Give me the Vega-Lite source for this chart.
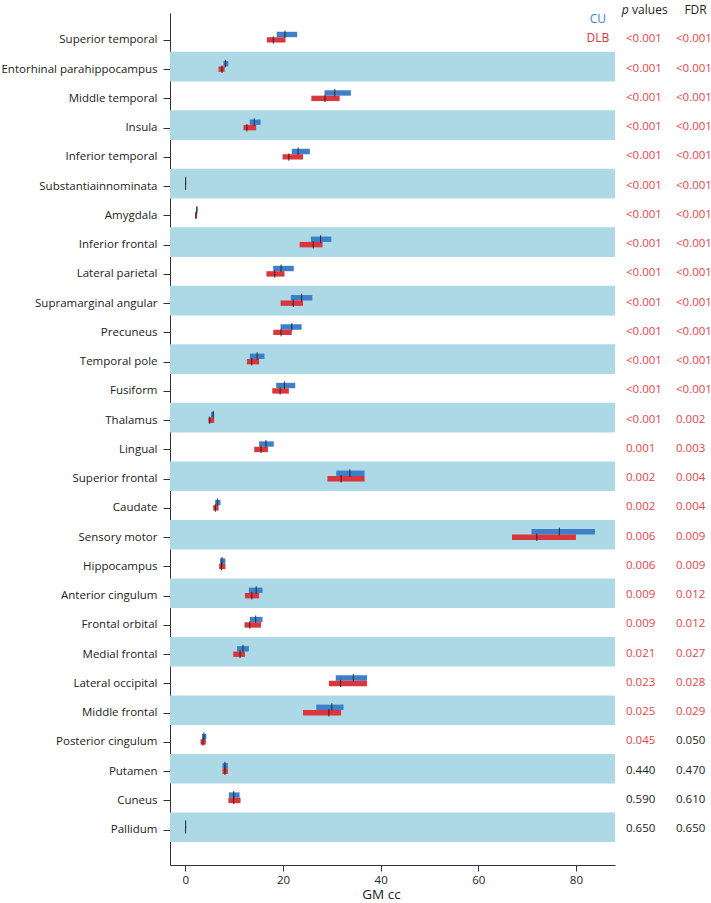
{
  "$schema": "https://vega.github.io/schema/vega-lite/v6.json",
  "width": 445,
  "height": 852,
  "autosize": {"type": "none"},
  "padding": {"left": 170, "top": 13, "right": 96, "bottom": 38},
  "background": "white",
  "config": {
    "font": "Open Sans",
    "view": {"stroke": null},
    "axis": {"grid": false, "domainColor": "#333333", "tickColor": "#333333", "labelColor": "#222222", "titleColor": "#222222"},
    "axisY": {"labelOverlap": false, "labelBound": false}
  },
  "datasets": {
    "regions": [
      {"idx": 0, "region": "Superior temporal", "p": "<0.001", "fdr": "<0.001", "p_sig": true, "fdr_sig": true},
      {"idx": 1, "region": "Entorhinal parahippocampus", "p": "<0.001", "fdr": "<0.001", "p_sig": true, "fdr_sig": true},
      {"idx": 2, "region": "Middle temporal", "p": "<0.001", "fdr": "<0.001", "p_sig": true, "fdr_sig": true},
      {"idx": 3, "region": "Insula", "p": "<0.001", "fdr": "<0.001", "p_sig": true, "fdr_sig": true},
      {"idx": 4, "region": "Inferior temporal", "p": "<0.001", "fdr": "<0.001", "p_sig": true, "fdr_sig": true},
      {"idx": 5, "region": "Substantiainnominata", "p": "<0.001", "fdr": "<0.001", "p_sig": true, "fdr_sig": true},
      {"idx": 6, "region": "Amygdala", "p": "<0.001", "fdr": "<0.001", "p_sig": true, "fdr_sig": true},
      {"idx": 7, "region": "Inferior frontal", "p": "<0.001", "fdr": "<0.001", "p_sig": true, "fdr_sig": true},
      {"idx": 8, "region": "Lateral parietal", "p": "<0.001", "fdr": "<0.001", "p_sig": true, "fdr_sig": true},
      {"idx": 9, "region": "Supramarginal angular", "p": "<0.001", "fdr": "<0.001", "p_sig": true, "fdr_sig": true},
      {"idx": 10, "region": "Precuneus", "p": "<0.001", "fdr": "<0.001", "p_sig": true, "fdr_sig": true},
      {"idx": 11, "region": "Temporal pole", "p": "<0.001", "fdr": "<0.001", "p_sig": true, "fdr_sig": true},
      {"idx": 12, "region": "Fusiform", "p": "<0.001", "fdr": "<0.001", "p_sig": true, "fdr_sig": true},
      {"idx": 13, "region": "Thalamus", "p": "<0.001", "fdr": "0.002", "p_sig": true, "fdr_sig": true},
      {"idx": 14, "region": "Lingual", "p": "0.001", "fdr": "0.003", "p_sig": true, "fdr_sig": true},
      {"idx": 15, "region": "Superior frontal", "p": "0.002", "fdr": "0.004", "p_sig": true, "fdr_sig": true},
      {"idx": 16, "region": "Caudate", "p": "0.002", "fdr": "0.004", "p_sig": true, "fdr_sig": true},
      {"idx": 17, "region": "Sensory motor", "p": "0.006", "fdr": "0.009", "p_sig": true, "fdr_sig": true},
      {"idx": 18, "region": "Hippocampus", "p": "0.006", "fdr": "0.009", "p_sig": true, "fdr_sig": true},
      {"idx": 19, "region": "Anterior cingulum", "p": "0.009", "fdr": "0.012", "p_sig": true, "fdr_sig": true},
      {"idx": 20, "region": "Frontal orbital", "p": "0.009", "fdr": "0.012", "p_sig": true, "fdr_sig": true},
      {"idx": 21, "region": "Medial frontal", "p": "0.021", "fdr": "0.027", "p_sig": true, "fdr_sig": true},
      {"idx": 22, "region": "Lateral occipital", "p": "0.023", "fdr": "0.028", "p_sig": true, "fdr_sig": true},
      {"idx": 23, "region": "Middle frontal", "p": "0.025", "fdr": "0.029", "p_sig": true, "fdr_sig": true},
      {"idx": 24, "region": "Posterior cingulum", "p": "0.045", "fdr": "0.050", "p_sig": true, "fdr_sig": false},
      {"idx": 25, "region": "Putamen", "p": "0.440", "fdr": "0.470", "p_sig": false, "fdr_sig": false},
      {"idx": 26, "region": "Cuneus", "p": "0.590", "fdr": "0.610", "p_sig": false, "fdr_sig": false},
      {"idx": 27, "region": "Pallidum", "p": "0.650", "fdr": "0.650", "p_sig": false, "fdr_sig": false}
    ],
    "stats": [
      {"region": "Superior temporal", "group": "CU", "q1": 18.7, "median": 20.4, "q3": 22.9},
      {"region": "Superior temporal", "group": "DLB", "q1": 16.7, "median": 18.0, "q3": 20.5},
      {"region": "Entorhinal parahippocampus", "group": "CU", "q1": 7.8, "median": 8.2, "q3": 8.8},
      {"region": "Entorhinal parahippocampus", "group": "DLB", "q1": 6.8, "median": 7.5, "q3": 8.05},
      {"region": "Middle temporal", "group": "CU", "q1": 28.5, "median": 30.6, "q3": 33.9},
      {"region": "Middle temporal", "group": "DLB", "q1": 25.8, "median": 28.6, "q3": 31.6},
      {"region": "Insula", "group": "CU", "q1": 13.2, "median": 14.1, "q3": 15.4},
      {"region": "Insula", "group": "DLB", "q1": 11.9, "median": 12.6, "q3": 14.5},
      {"region": "Inferior temporal", "group": "CU", "q1": 21.8, "median": 23.1, "q3": 25.5},
      {"region": "Inferior temporal", "group": "DLB", "q1": 19.9, "median": 21.2, "q3": 24.1},
      {"region": "Substantiainnominata", "group": "CU", "q1": 0.0, "median": 0.06, "q3": 0.12},
      {"region": "Substantiainnominata", "group": "DLB", "q1": 0.0, "median": 0.05, "q3": 0.1},
      {"region": "Amygdala", "group": "CU", "q1": 2.2, "median": 2.35, "q3": 2.5},
      {"region": "Amygdala", "group": "DLB", "q1": 2.0, "median": 2.15, "q3": 2.4},
      {"region": "Inferior frontal", "group": "CU", "q1": 25.7, "median": 27.7, "q3": 29.9},
      {"region": "Inferior frontal", "group": "DLB", "q1": 23.4, "median": 26.2, "q3": 28.1},
      {"region": "Lateral parietal", "group": "CU", "q1": 18.0, "median": 19.6, "q3": 22.2},
      {"region": "Lateral parietal", "group": "DLB", "q1": 16.6, "median": 18.3, "q3": 20.3},
      {"region": "Supramarginal angular", "group": "CU", "q1": 21.6, "median": 23.8, "q3": 26.0},
      {"region": "Supramarginal angular", "group": "DLB", "q1": 19.5, "median": 22.1, "q3": 24.1},
      {"region": "Precuneus", "group": "CU", "q1": 19.5, "median": 21.8, "q3": 23.8},
      {"region": "Precuneus", "group": "DLB", "q1": 18.0, "median": 19.6, "q3": 21.8},
      {"region": "Temporal pole", "group": "CU", "q1": 13.2, "median": 14.7, "q3": 16.2},
      {"region": "Temporal pole", "group": "DLB", "q1": 12.6, "median": 13.6, "q3": 15.1},
      {"region": "Fusiform", "group": "CU", "q1": 18.6, "median": 20.3, "q3": 22.5},
      {"region": "Fusiform", "group": "DLB", "q1": 17.8, "median": 19.4, "q3": 21.2},
      {"region": "Thalamus", "group": "CU", "q1": 5.25, "median": 5.7, "q3": 5.9},
      {"region": "Thalamus", "group": "DLB", "q1": 4.7, "median": 5.0, "q3": 5.9},
      {"region": "Lingual", "group": "CU", "q1": 15.1, "median": 16.5, "q3": 18.1},
      {"region": "Lingual", "group": "DLB", "q1": 14.1, "median": 15.5, "q3": 16.9},
      {"region": "Superior frontal", "group": "CU", "q1": 30.9, "median": 33.7, "q3": 36.7},
      {"region": "Superior frontal", "group": "DLB", "q1": 29.1, "median": 31.9, "q3": 36.7},
      {"region": "Caudate", "group": "CU", "q1": 6.1, "median": 6.55, "q3": 7.2},
      {"region": "Caudate", "group": "DLB", "q1": 5.7, "median": 6.15, "q3": 6.8},
      {"region": "Sensory motor", "group": "CU", "q1": 70.9, "median": 76.6, "q3": 83.9},
      {"region": "Sensory motor", "group": "DLB", "q1": 66.9, "median": 72.0, "q3": 80.0},
      {"region": "Hippocampus", "group": "CU", "q1": 7.1, "median": 7.5, "q3": 8.2},
      {"region": "Hippocampus", "group": "DLB", "q1": 6.9, "median": 7.4, "q3": 8.2},
      {"region": "Anterior cingulum", "group": "CU", "q1": 13.0, "median": 14.5, "q3": 15.8},
      {"region": "Anterior cingulum", "group": "DLB", "q1": 12.2, "median": 13.6, "q3": 15.1},
      {"region": "Frontal orbital", "group": "CU", "q1": 13.2, "median": 14.4, "q3": 15.8},
      {"region": "Frontal orbital", "group": "DLB", "q1": 12.1, "median": 13.2, "q3": 15.5},
      {"region": "Medial frontal", "group": "CU", "q1": 10.6, "median": 11.8, "q3": 13.0},
      {"region": "Medial frontal", "group": "DLB", "q1": 9.8, "median": 11.2, "q3": 12.2},
      {"region": "Lateral occipital", "group": "CU", "q1": 30.8, "median": 34.4, "q3": 37.2},
      {"region": "Lateral occipital", "group": "DLB", "q1": 29.4, "median": 31.8, "q3": 37.2},
      {"region": "Middle frontal", "group": "CU", "q1": 26.8, "median": 30.0, "q3": 32.4},
      {"region": "Middle frontal", "group": "DLB", "q1": 24.1, "median": 29.4, "q3": 31.9},
      {"region": "Posterior cingulum", "group": "CU", "q1": 3.4, "median": 3.8, "q3": 4.3},
      {"region": "Posterior cingulum", "group": "DLB", "q1": 3.1, "median": 3.6, "q3": 4.2},
      {"region": "Putamen", "group": "CU", "q1": 7.6, "median": 8.1, "q3": 8.7},
      {"region": "Putamen", "group": "DLB", "q1": 7.6, "median": 8.1, "q3": 8.7},
      {"region": "Cuneus", "group": "CU", "q1": 8.9, "median": 9.9, "q3": 11.1},
      {"region": "Cuneus", "group": "DLB", "q1": 8.8, "median": 9.9, "q3": 11.3},
      {"region": "Pallidum", "group": "CU", "q1": 0.0, "median": 0.06, "q3": 0.12},
      {"region": "Pallidum", "group": "DLB", "q1": 0.0, "median": 0.05, "q3": 0.1}
    ],
    "legend": [{"group": "CU"}, {"group": "DLB"}],
    "headers": [{"part": "p", "text": "p"}, {"part": "values", "text": "values"}, {"part": "FDR", "text": "FDR"}]
  },
  "encoding": {
    "y": {
      "type": "quantitative",
      "scale": {"domain": [-0.662, 28.12], "reverse": true, "nice": false, "zero": false},
      "axis": {
        "values": [0,1,2,3,4,5,6,7,8,9,10,11,12,13,14,15,16,17,18,19,20,21,22,23,24,25,26,27],
        "labelExpr": "['Superior temporal','Entorhinal parahippocampus','Middle temporal','Insula','Inferior temporal','Substantiainnominata','Amygdala','Inferior frontal','Lateral parietal','Supramarginal angular','Precuneus','Temporal pole','Fusiform','Thalamus','Lingual','Superior frontal','Caudate','Sensory motor','Hippocampus','Anterior cingulum','Frontal orbital','Medial frontal','Lateral occipital','Middle frontal','Posterior cingulum','Putamen','Cuneus','Pallidum'][datum.value]",
        "title": null, "labelFontSize": 11.5, "tickSize": 7, "labelPadding": 6, "tickOffset": 2.5, "labelBound": false, "labelOverlap": false
      }
    },
    "x": {
      "type": "quantitative",
      "scale": {"domain": [-3.15, 88], "nice": false, "zero": false},
      "axis": {
        "values": [0, 20, 40, 60, 80], "title": "GM cc", "titleFontSize": 13.5, "titleFontWeight": "normal",
        "labelFontSize": 11.5, "tickSize": 6, "labelPadding": 3, "titleX": 211, "titlePadding": 2
      }
    }
  },
  "layer": [
    {
      "data": {"name": "regions"},
      "transform": [{"filter": "datum.idx % 2 == 1"}],
      "mark": {"type": "bar", "height": 29.6, "color": "#add8e6"},
      "encoding": {
        "y": {"field": "idx", "type": "quantitative"},
        "x": {"datum": -3.15, "type": "quantitative"},
        "x2": {"datum": 88}
      }
    },
    {
      "data": {"name": "stats"},
      "transform": [
        {"lookup": "region", "from": {"data": {"name": "regions"}, "key": "region", "fields": ["idx"]}},
        {"filter": "datum.group == 'CU'"}
      ],
      "mark": {"type": "bar", "height": 5.4, "yOffset": -2.9, "color": "#3d80c8"},
      "encoding": {
        "y": {"field": "idx", "type": "quantitative"},
        "x": {"field": "q1", "type": "quantitative"},
        "x2": {"field": "q3"}
      }
    },
    {
      "data": {"name": "stats"},
      "transform": [
        {"lookup": "region", "from": {"data": {"name": "regions"}, "key": "region", "fields": ["idx"]}},
        {"filter": "datum.group == 'DLB'"}
      ],
      "mark": {"type": "bar", "height": 5.4, "yOffset": 2.5, "color": "#d9363e"},
      "encoding": {
        "y": {"field": "idx", "type": "quantitative"},
        "x": {"field": "q1", "type": "quantitative"},
        "x2": {"field": "q3"}
      }
    },
    {
      "data": {"name": "stats"},
      "transform": [
        {"lookup": "region", "from": {"data": {"name": "regions"}, "key": "region", "fields": ["idx"]}},
        {"filter": "datum.group == 'CU'"}
      ],
      "mark": {"type": "tick", "orient": "vertical", "size": 7.5, "thickness": 1, "yOffset": -3.2, "color": "#1a1a1a", "opacity": 0.85},
      "encoding": {
        "y": {"field": "idx", "type": "quantitative"},
        "x": {"field": "median", "type": "quantitative"}
      }
    },
    {
      "data": {"name": "stats"},
      "transform": [
        {"lookup": "region", "from": {"data": {"name": "regions"}, "key": "region", "fields": ["idx"]}},
        {"filter": "datum.group == 'DLB'"}
      ],
      "mark": {"type": "tick", "orient": "vertical", "size": 7.5, "thickness": 1, "yOffset": 2.6, "color": "#1a1a1a", "opacity": 0.85},
      "encoding": {
        "y": {"field": "idx", "type": "quantitative"},
        "x": {"field": "median", "type": "quantitative"}
      }
    },
    {
      "data": {"name": "regions"},
      "mark": {"type": "text", "align": "left", "baseline": "middle", "fontSize": 11.5, "dy": 2},
      "encoding": {
        "y": {"field": "idx", "type": "quantitative"},
        "x": {"datum": 90.25, "type": "quantitative"},
        "text": {"field": "p"},
        "color": {"condition": {"test": "datum.p_sig", "value": "#e2454b"}, "value": "#222222"}
      }
    },
    {
      "data": {"name": "regions"},
      "mark": {"type": "text", "align": "left", "baseline": "middle", "fontSize": 11.5, "dy": 2},
      "encoding": {
        "y": {"field": "idx", "type": "quantitative"},
        "x": {"datum": 100.5, "type": "quantitative"},
        "text": {"field": "fdr"},
        "color": {"condition": {"test": "datum.fdr_sig", "value": "#e2454b"}, "value": "#222222"}
      }
    },
    {
      "data": {"name": "headers"},
      "transform": [{"filter": "datum.part == 'p'"}],
      "mark": {"type": "text", "align": "left", "baseline": "middle", "fontSize": 12, "fontStyle": "italic", "color": "#222222"},
      "encoding": {
        "y": {"datum": -0.94, "type": "quantitative"},
        "x": {"datum": 89.4, "type": "quantitative"},
        "text": {"field": "text"}
      }
    },
    {
      "data": {"name": "headers"},
      "transform": [{"filter": "datum.part == 'values'"}],
      "mark": {"type": "text", "align": "left", "baseline": "middle", "fontSize": 12, "color": "#222222"},
      "encoding": {
        "y": {"datum": -0.94, "type": "quantitative"},
        "x": {"datum": 91.5, "type": "quantitative"},
        "text": {"field": "text"}
      }
    },
    {
      "data": {"name": "headers"},
      "transform": [{"filter": "datum.part == 'FDR'"}],
      "mark": {"type": "text", "align": "center", "baseline": "middle", "fontSize": 12, "color": "#222222"},
      "encoding": {
        "y": {"datum": -0.94, "type": "quantitative"},
        "x": {"datum": 104.5, "type": "quantitative"},
        "text": {"field": "text"}
      }
    },
    {
      "data": {"name": "legend"},
      "transform": [{"filter": "datum.group == 'CU'"}],
      "mark": {"type": "text", "align": "center", "baseline": "middle", "fontSize": 12, "color": "#3d85d0"},
      "encoding": {
        "y": {"datum": -0.62, "type": "quantitative"},
        "x": {"datum": 84.5, "type": "quantitative"},
        "text": {"field": "group"}
      }
    },
    {
      "data": {"name": "legend"},
      "transform": [{"filter": "datum.group == 'DLB'"}],
      "mark": {"type": "text", "align": "center", "baseline": "middle", "fontSize": 12, "color": "#d9363e"},
      "encoding": {
        "y": {"datum": 0.02, "type": "quantitative"},
        "x": {"datum": 84.5, "type": "quantitative"},
        "text": {"field": "group"}
      }
    }
  ]
}
